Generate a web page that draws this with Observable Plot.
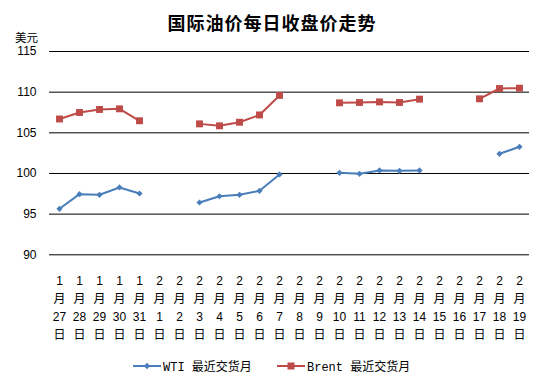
<!DOCTYPE html>
<html>
<head>
<meta charset="utf-8">
<script src="https://cdn.jsdelivr.net/npm/d3@7"></script>
<script src="https://cdn.jsdelivr.net/npm/@observablehq/plot@0.6"></script>
<style>
  body { margin: 0; background: #fff; }
  #wrap { position: relative; width: 544px; height: 384px; overflow: hidden; background: #fff; }
  #title { position: absolute; top: 11px; left: 0; width: 544px; text-align: center;
           font: bold 18px "Noto Sans CJK SC", sans-serif; line-height: 22px; color: #000; letter-spacing: 1px; }
  #chart { position: absolute; top: 30px; left: 0; }
  #legend { position: absolute; top: 357px; left: 0; width: 544px; height: 18px; }
  .item { position: absolute; top: 0; display: flex; align-items: center; height: 18px;
          font: 12px "Liberation Mono", "Noto Sans CJK SC", monospace; color: #000; }
  .item svg { margin-right: 2px; }
</style>
</head>
<body>
<div id="wrap">
  <div id="title">国际油价每日收盘价走势</div>
  <div id="chart"></div>
  <div id="legend">
    <div class="item" style="left:133px"><svg width="28" height="10"><line x1="0" y1="5" x2="28" y2="5" stroke="#4a7ebb" stroke-width="2"/><path d="M14,1.8L17.2,5L14,8.2L10.8,5Z" fill="#4a7ebb"/></svg><span>WTI 最近交货月</span></div>
    <div class="item" style="left:277px"><svg width="28" height="10"><line x1="0" y1="5" x2="28" y2="5" stroke="#be4b48" stroke-width="2"/><rect x="10.5" y="1.5" width="7" height="7" fill="#be4b48"/></svg><span>Brent 最近交货月</span></div>
  </div>
</div>
<script>
const months = [1,1,1,1,1,2,2,2,2,2,2,2,2,2,2,2,2,2,2,2,2,2,2,2];
const days   = [27,28,29,30,31,1,2,3,4,5,6,7,8,9,10,11,12,13,14,15,16,17,18,19];
const wti    = [95.66,97.46,97.38,98.28,97.54,null,null,96.43,97.2,97.38,97.87,99.88,null,null,100.08,99.96,100.37,100.33,100.37,null,null,null,102.42,103.28];
const brent  = [106.7,107.5,107.87,107.95,106.48,null,null,106.1,105.86,106.3,107.2,109.6,null,null,108.69,108.73,108.8,108.73,109.14,null,null,109.18,110.45,110.49];
const yTicks = [90,95,100,105,110,115];

const labels = months.map((m, i) => `${m}\n月\n${days[i]}\n日`);
const rows = labels.map((d, i) => ({d, wti: wti[i], brent: brent[i]}));

const chart = Plot.plot({
  width: 544,
  height: 320,
  marginLeft: 49,
  marginRight: 15,
  marginTop: 21,
  marginBottom: 95.7,
  style: {fontFamily: "'Liberation Sans', 'Noto Sans CJK SC', sans-serif", fontSize: "12px", color: "#000", background: "transparent"},
  x: {type: "point", domain: labels, padding: 0.5},
  y: {domain: [90, 115]},
  marks: [
    Plot.ruleY(yTicks, {stroke: "#000", strokeWidth: 1, strokeOpacity: 1}),
    Plot.axisY({ticks: yTicks, tickSize: 0, tickPadding: 13, label: null, fontSize: 12}),
    Plot.axisX({tickSize: 0, tickPadding: 17, label: null, lineHeight: 1.5, fontSize: 12}),
    Plot.text(["美元"], {frameAnchor: "top-left", dx: -23, dy: -18, textAnchor: "middle", fontSize: 11.5}),
    Plot.line(rows, {x: "d", y: "wti", stroke: "#4a7ebb", strokeWidth: 2}),
    Plot.dot(rows.filter(r => r.wti != null), {x: "d", y: "wti", symbol: "diamond2", r: 2.8, fill: "#4a7ebb", stroke: "none"}),
    Plot.line(rows, {x: "d", y: "brent", stroke: "#be4b48", strokeWidth: 2}),
    Plot.dot(rows.filter(r => r.brent != null), {x: "d", y: "brent", symbol: "square", r: 3.9, fill: "#be4b48", stroke: "none"})
  ]
});
document.getElementById("chart").appendChild(chart);
</script>
</body>
</html>
